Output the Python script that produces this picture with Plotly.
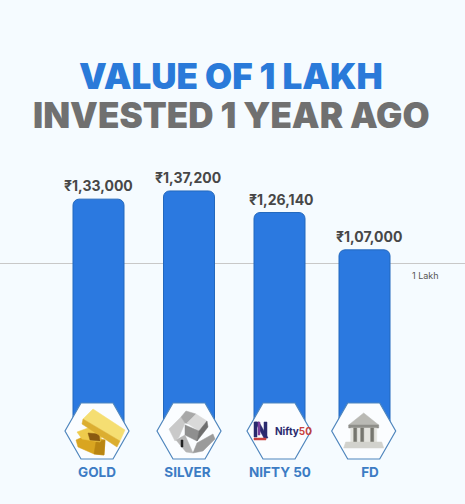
import plotly.graph_objects as go

categories = ["GOLD", "SILVER", "NIFTY 50", "FD"]
values = [133000, 137200, 126140, 107000]
value_labels = ["₹1,33,000", "₹1,37,200", "₹1,26,140", "₹1,07,000"]
reference_value = 100000
reference_label = "1 Lakh"
title_line_1 = "VALUE OF 1 LAKH"
title_line_2 = "INVESTED 1 YEAR AGO"

W, H = 465, 504
BLUE = "#2b79e0"
BG = "#f5fbff"
bar_centres = [98.5, 189, 279.5, 364.5]
label_centres = [97, 187.5, 280, 370]
label_shifts = [0, -1.5, 1.5, 4.5]
hex_centres = [97, 189, 279, 363.7]


def X(px):
    return px / W


def Y(py):
    return 1 - py / H


def poly(points, fill, line=None, width=0.5):
    path = "M" + " L".join(f"{X(x):.5f},{Y(y):.5f}" for x, y in points) + " Z"
    return dict(type="path", xref="paper", yref="paper", path=path, fillcolor=fill,
                line=dict(color=line or fill, width=width), layer="above")


def shift(points, cx, cy=431):
    return [(cx + x, cy + y) for x, y in points]


shapes = []
for c in hex_centres:
    shapes.append(poly(shift([(-16, -28), (16, -28), (32, 0), (16, 28), (-16, 28), (-32, 0)], c),
                       "#fbfdff", "#4f86bd", 1.2))

# gold bars
c = hex_centres[0]
shapes += [
    poly(shift([(-21, 9), (-10, 4), (8, 9), (7, 24), (-3, 23), (-19, 16)], c), "#d9a520"),
    poly(shift([(-3, 23), (7, 24), (8, 9), (-1, 11)], c), "#b98512"),
    poly(shift([(-20, 1), (-9, -3), (6, 2), (3, 11), (-15, 8)], c), "#efcb4c"),
    poly(shift([(-9, 2), (2, 3), (3, 10), (-7, 9)], c), "#8a5a10"),
    poly(shift([(-14, -12), (-4, -22), (28, -1), (23, 10)], c), "#f5de72"),
    poly(shift([(-14, -12), (23, 10), (20, 16), (-15, -7)], c), "#dcae30"),
]
# silver bars
c = hex_centres[1]
shapes += [
    poly(shift([(-20, -2), (-8, -14), (-4, -8), (-10, 6), (-14, 10)], c), "#c9c9c9"),
    poly(shift([(-8, -14), (-3, -20), (7, -17), (2, -7), (-4, -8)], c), "#a8a8a8"),
    poly(shift([(-2, -8), (7, -17), (18, -10), (10, 0)], c), "#d9d9d9"),
    poly(shift([(-4, -6), (10, 0), (8, 10), (-4, 4)], c), "#8f8f8f"),
    poly(shift([(8, 10), (10, 0), (18, -10), (19, -4)], c), "#6e6e6e"),
    poly(shift([(-13, 9), (-4, 4), (4, 22), (-3, 21)], c), "#b5b5b5"),
    poly(shift([(4, 22), (8, 12), (24, 3), (26, 8), (14, 20)], c), "#9b9b9b"),
    poly(shift([(-8, 9), (-6, 9), (-6, 16), (-8, 16)], c), "#222222"),
]
# nifty N mark
c = hex_centres[2]
navy = "#2a2a6e"
shapes += [
    poly(shift([(-25, -9), (-22, -9), (-22, 6), (-25, 6)], c), navy),
    poly(shift([(-15, -9), (-12, -9), (-12, 7), (-15, 7)], c), navy),
    poly(shift([(-24, -9), (-20, -9), (-11, 7), (-15, 7)], c), navy),
    poly(shift([(-21, -9), (-19, -9), (-19, 4), (-21, 4)], c), "#7a3f9a"),
    poly(shift([(-25, 7), (-13, 7), (-13, 9), (-25, 9)], c), "#c8433f"),
]
# bank
c = hex_centres[3]
shapes += [
    poly(shift([(-15, -6), (0, -18), (15, -6)], c), "#b9b9b4"),
    poly(shift([(-15, -6), (15, -6), (15, -3), (-15, -3)], c), "#8f8f8a"),
    poly(shift([(-13, -3), (13, -3), (13, 11), (-13, 11)], c), "#e4e4df"),
    poly(shift([(-10, -3), (-7, -3), (-7, 11), (-10, 11)], c), "#76766f"),
    poly(shift([(-3, -3), (0, -3), (0, 11), (-3, 11)], c), "#76766f"),
    poly(shift([(7, -3), (10, -3), (10, 11), (7, 11)], c), "#76766f"),
    poly(shift([(-18, 11), (18, 11), (20, 17), (-20, 17)], c), "#d2d2cd"),
]

annotations = [
    dict(xref="paper", yref="paper", x=X(231), y=Y(76), text=title_line_1, showarrow=False,
         xanchor="center", yanchor="middle",
         font=dict(family="Inter", size=35, color="#2a7ad9", weight=900)),
    dict(xref="paper", yref="paper", x=X(231.5), y=Y(115), text=title_line_2, showarrow=False,
         xanchor="center", yanchor="middle",
         font=dict(family="Inter", size=35, color="#707070", weight=900)),
    dict(xref="paper", yref="y", x=X(425), y=reference_value, yshift=-12, text=reference_label,
         showarrow=False, xanchor="center",
         font=dict(family="Inter", size=9, color="#555555")),
    dict(xref="paper", yref="paper", x=X(hex_centres[2] + 14), y=Y(431), text="Nifty<span style='color:#c8433f'>50</span>",
         showarrow=False, xanchor="center", yanchor="middle",
         font=dict(family="Inter", size=10, color="#2a2a6e", weight=700)),
]
for xc, v, t, s in zip(bar_centres, values, value_labels, label_shifts):
    annotations.append(dict(x=xc, y=v, text=t, showarrow=False, xshift=s, yshift=13.5,
                            font=dict(family="Inter", size=14, color="#474747", weight=700)))

fig = go.Figure(go.Bar(
    x=bar_centres, y=values, width=51,
    marker=dict(color=BLUE, cornerradius=6, line=dict(color="#2368bd", width=1)),
    hoverinfo="skip",
))
fig.update_layout(
    width=W, height=H, autosize=False,
    margin=dict(l=0, r=0, t=0, b=0),
    paper_bgcolor=BG, plot_bgcolor=BG,
    showlegend=False, shapes=shapes, annotations=annotations,
    xaxis=dict(range=[0, W], tickvals=label_centres, ticktext=categories,
               anchor="free", position=Y(462), showgrid=False, zeroline=False, showline=False,
               ticks="", tickfont=dict(family="Inter", size=13.5, color="#3c7cc4", weight=700)),
    yaxis=dict(domain=[Y(425), 1], range=[17180, 235128], tickvals=[reference_value], showticklabels=False,
               ticks="", showgrid=True, gridcolor="#c8c8c8", gridwidth=1, zeroline=False, showline=False),
)
fig.write_html("out.html", config={"displayModeBar": False},
               post_script="document.body.style.margin='0';document.documentElement.style.background='%s';" % BG)
